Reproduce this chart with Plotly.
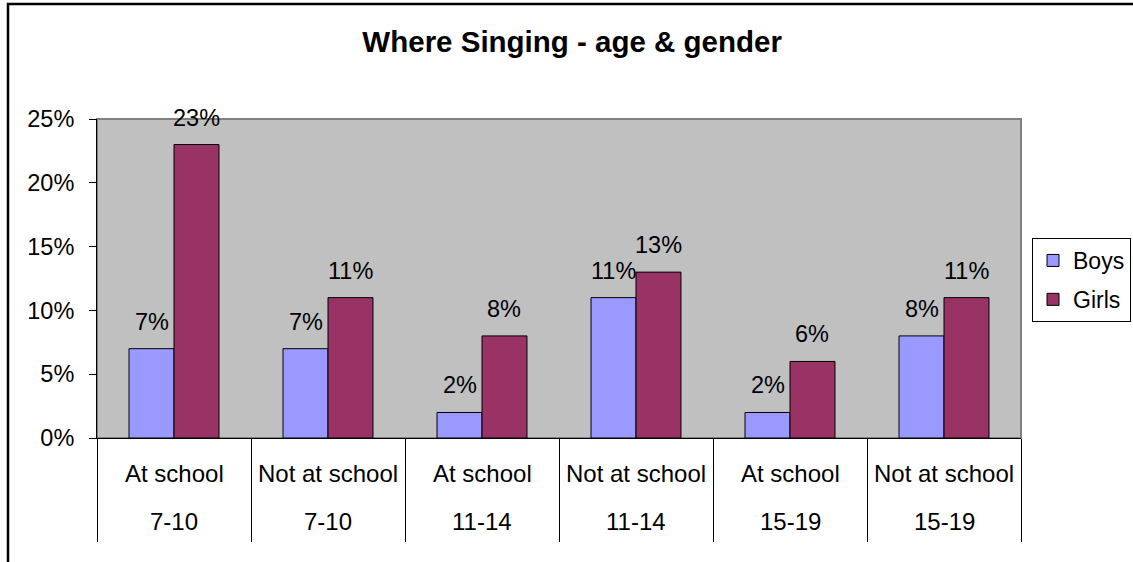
import plotly.graph_objects as go

# Survey results: share singing, by setting, age band and gender (percent)
settings = ["At school", "Not at school", "At school", "Not at school", "At school", "Not at school"]
ages = ["7-10", "7-10", "11-14", "11-14", "15-19", "15-19"]
boys = [7, 7, 2, 11, 2, 8]
girls = [23, 11, 8, 13, 6, 11]
y_ticks = [0, 5, 10, 15, 20, 25]

FONT = "Arial, 'Liberation Sans', sans-serif"
W, H = 1133, 562
M_L, M_R, M_T, M_B = 97, 112, 119, 124
BARGAP = 0.416

cats = [f"{s} {a}" for s, a in zip(settings, ages)]

fig = go.Figure()
fig.add_trace(go.Bar(
    name="Boys", x=cats, y=boys, legendgroup="b",
    marker=dict(color="#9999FF", line=dict(color="black", width=1)),
))
fig.add_trace(go.Bar(
    name="Girls", x=cats, y=girls, legendgroup="g",
    marker=dict(color="#993366", line=dict(color="black", width=1)),
))

# value labels above each bar
plot_w = W - M_L - M_R
plot_h = H - M_T - M_B
bar_px = plot_w / len(cats) * (1 - BARGAP) / 2
annotations = []
for c, b, g in zip(cats, boys, girls):
    for val, shift in ((b, -bar_px / 2), (g, bar_px / 2)):
        annotations.append(dict(
            x=c, y=val, xref="x", yref="y", text=f"{val}%", showarrow=False,
            xshift=shift, yshift=12, yanchor="bottom",
            font=dict(family=FONT, size=23.5, color="black"),
        ))
# two-row category labels
for c, s, a in zip(cats, settings, ages):
    annotations.append(dict(x=c, y=-0.11, xref="x", yref="paper", text=s, showarrow=False,
                            yanchor="middle", font=dict(family=FONT, size=24, color="black")))
    annotations.append(dict(x=c, y=-0.262, xref="x", yref="paper", text=a, showarrow=False,
                            yanchor="middle", font=dict(family=FONT, size=24, color="black")))

shapes = [
    # plot-area border
    dict(type="rect", xref="paper", yref="paper", x0=0, y0=0, x1=1, y1=1,
         line=dict(color="#808080", width=2), layer="below"),
    # chart frame
    dict(type="rect", xref="paper", yref="paper",
         x0=(8 - M_L) / plot_w, x1=(W + 20 - M_L) / plot_w,
         y0=-(M_B + 20) / plot_h, y1=((H - M_B) - 4) / plot_h,
         line=dict(color="black", width=2.5)),
]

fig.update_layout(
    width=W, height=H,
    margin=dict(l=M_L, r=M_R, t=M_T, b=M_B, autoexpand=False),
    paper_bgcolor="white", plot_bgcolor="#C0C0C0",
    barmode="group", bargap=BARGAP, bargroupgap=0,
    font=dict(family=FONT, size=23, color="black"),
    title=dict(text="<b>Where Singing - age & gender</b>", x=0.505, xanchor="center",
               y=1 - 42 / H, yanchor="middle", yref="container",
               font=dict(family=FONT, size=29.5, color="black")),
    xaxis=dict(showticklabels=False, ticks="outside", tickson="boundaries", ticklen=103,
               tickcolor="black", tickwidth=1, showline=True, linecolor="black", linewidth=1,
               showgrid=False, zeroline=False),
    yaxis=dict(range=[0, 25], tickvals=y_ticks, ticktext=[f"{t}%" for t in y_ticks],
               ticks="outside", ticklen=7, tickcolor="black", tickwidth=1,
               showline=True, linecolor="black", linewidth=1, showgrid=False, zeroline=False,
               ticklabelstandoff=10, tickfont=dict(family=FONT, size=23.5, color="black")),
    legend=dict(x=(1131 - M_L) / plot_w, xanchor="right", y=(H - M_B - 238) / plot_h,
                yanchor="top", bordercolor="black", borderwidth=1, bgcolor="white",
                font=dict(family=FONT, size=23, color="black"), tracegroupgap=6,
                itemwidth=30),
    annotations=annotations, shapes=shapes, showlegend=True,
)

fig.write_html("out.html")
